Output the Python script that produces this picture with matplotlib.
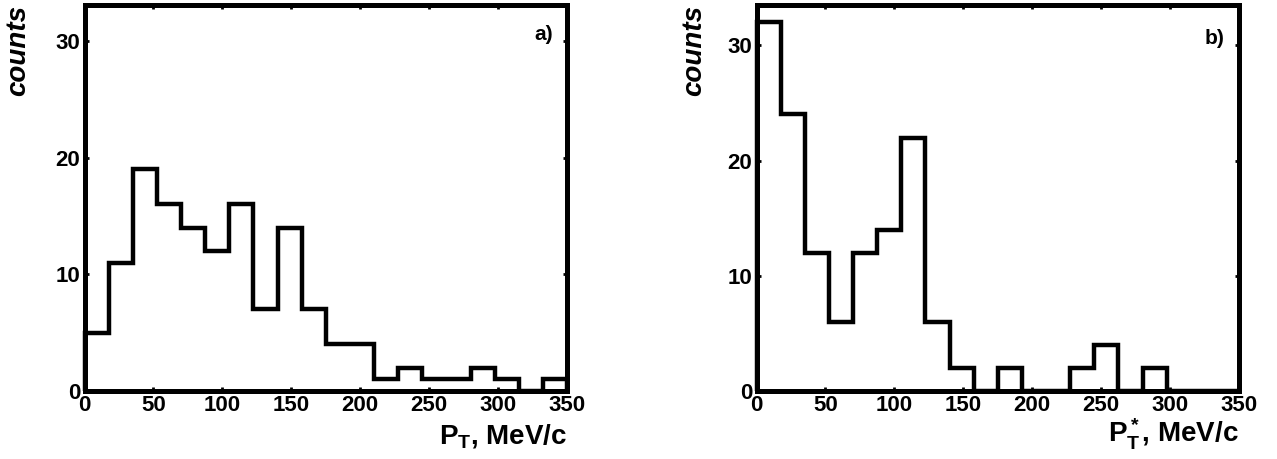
import numpy as np
import matplotlib
matplotlib.use("Agg")
import matplotlib.pyplot as plt

# ---- data ----
bin_edges = np.arange(0, 350.1, 17.5)
counts_a = [5, 11, 19, 16, 14, 12, 16, 7, 14, 7, 4, 4, 1, 2, 1, 1, 2, 1, 0, 1]
counts_b = [32, 24, 12, 6, 12, 14, 22, 6, 2, 0, 2, 0, 0, 2, 4, 0, 2, 0, 0, 0]
x_ticks = [0, 50, 100, 150, 200, 250, 300, 350]
y_ticks = [0, 10, 20, 30]
panel_labels = ["a)", "b)"]
x_labels = [r"$P_T$, MeV/c", r"$P^*_T$, MeV/c"]
y_label = "counts"

plt.rcParams['font.family'] = ['Liberation Sans', 'DejaVu Sans']
plt.rcParams['font.weight'] = 'bold'
plt.rcParams['mathtext.fontset'] = 'custom'
plt.rcParams['mathtext.rm'] = 'Liberation Sans:bold'
plt.rcParams['mathtext.bf'] = 'Liberation Sans:bold'
plt.rcParams['mathtext.it'] = 'Liberation Sans:bold'
plt.rcParams['mathtext.default'] = 'rm'

W, H = 1277, 459
fig = plt.figure(figsize=(W / 100, H / 100), dpi=100)

panels = [
    dict(left=84.5, right=567, top=5, bottom=391, ymax=33.1, data=counts_a,
         ylab_x=18, lab_x=553, lab_y=34),
    dict(left=756.5, right=1239, top=5, bottom=391, ymax=33.5, data=counts_b,
         ylab_x=694, lab_x=1224, lab_y=38),
]

for i, p in enumerate(panels):
    ax = fig.add_axes([p['left'] / W, 1 - p['bottom'] / H,
                       (p['right'] - p['left']) / W, (p['bottom'] - p['top']) / H])
    ax.stairs(p['data'], bin_edges, color='black', linewidth=3.2,
              baseline=0, clip_on=False, zorder=3)
    ax.set_xlim(0, 350)
    ax.set_ylim(0, p['ymax'])
    ax.set_xticks(x_ticks)
    ax.set_yticks(y_ticks)
    ax.tick_params(axis='both', which='major', direction='in', length=3, width=2,
                   top=True, right=True, labelsize=16, pad=3)
    for lab in ax.get_xticklabels() + ax.get_yticklabels():
        lab.set_fontweight('bold')
    for s in ax.spines.values():
        s.set_linewidth(3.6)
        s.set_zorder(4)
    # panel label
    fig.text(p['lab_x'] / W, 1 - p['lab_y'] / H, panel_labels[i],
             ha='right', va='center', fontsize=15, fontweight='bold')
    # y label
    fig.text(p['ylab_x'] / W, 1 - 5 / H, y_label, rotation=90, ha='center', va='top',
             fontsize=20, fontweight='bold', fontstyle='italic')
    # x label
    fig.text(p['right'] / W, 1 - 443 / H, x_labels[i], ha='right', va='baseline',
             fontsize=20, fontweight='bold')

fig.savefig("out.png", dpi=100)
